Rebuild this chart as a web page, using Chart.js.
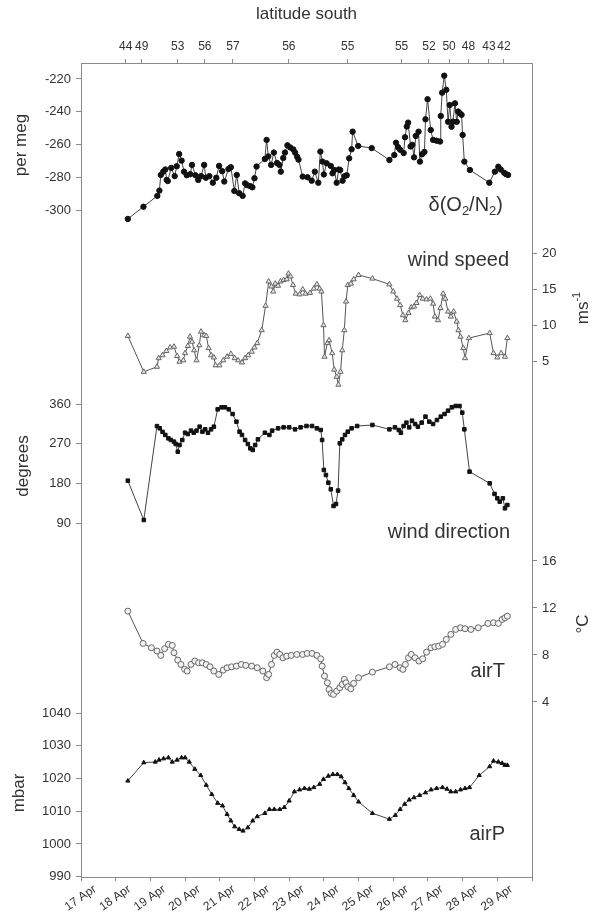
<!DOCTYPE html>
<html><head><meta charset="utf-8">
<script src="https://cdn.jsdelivr.net/npm/chart.js@4.4.1/dist/chart.umd.min.js"></script>
<style>html,body{margin:0;padding:0;background:#fff;}canvas{display:block;}</style>
</head><body>
<canvas id="c" width="593" height="917"></canvas>
<script>
// ---------- DATA ----------
const o2Days = [18.35,18.80,19.20,19.26,19.30,19.37,19.43,19.47,19.50,19.60,19.70,19.76,19.83,19.90,19.97,20.05,20.15,20.20,20.30,20.38,20.46,20.55,20.60,20.70,20.80,20.90,20.98,21.07,21.13,21.25,21.32,21.42,21.49,21.56,21.66,21.73,21.79,21.87,21.94,22.00,22.06,22.30,22.35,22.40,22.48,22.56,22.65,22.72,22.76,22.83,22.88,22.95,23.03,23.12,23.17,23.23,23.27,23.39,23.53,23.65,23.74,23.84,23.90,23.96,24.00,24.08,24.20,24.25,24.30,24.37,24.43,24.47,24.54,24.60,24.66,24.73,24.80,24.83,24.99,25.38,25.89,26.03,26.08,26.14,26.20,26.30,26.34,26.39,26.43,26.50,26.55,26.60,26.65,26.73,26.77,26.83,26.90,26.93,26.99,27.08,27.15,27.25,27.35,27.37,27.41,27.47,27.53,27.58,27.63,27.68,27.72,27.78,27.83,27.87,27.92,27.97,28.00,28.05,28.21,28.77,28.93,29.03,29.10,29.20,29.25,29.31];
const o2Values = [-305,-297.6,-291,-287.8,-278.3,-276.3,-275,-281.3,-282,-274,-279,-273,-265.6,-269.6,-276.3,-278.5,-277.8,-272.2,-278.5,-281.3,-279,-272.2,-280,-279,-283,-280,-272.8,-276,-282.3,-274.7,-273.6,-288,-278.3,-289.4,-291,-283.4,-284.5,-285,-285.8,-280.3,-273.2,-268.6,-257,-267,-272.2,-264.7,-271,-272.2,-276.3,-268,-264.7,-260.3,-261.6,-262.8,-264.7,-267.2,-269,-279.3,-279.7,-281.8,-276.3,-283,-264.1,-270.2,-278,-271.2,-272.8,-277.3,-275.3,-283,-275,-275.3,-281.8,-279,-278.5,-268.2,-262.7,-252,-260.7,-262,-269.2,-266.2,-258.7,-261.4,-263,-265,-255.4,-248.9,-246.5,-261,-260,-267.6,-254.6,-252,-270.2,-265.7,-264.3,-244.5,-232.3,-251,-257,-257.5,-258,-242.5,-228.3,-218,-226.6,-246,-235.8,-249,-246,-234.8,-246,-239.8,-240.8,-241.8,-254,-270.2,-275.3,-283,-276.3,-273.3,-275,-277,-277.8,-278.3];

const windDays = [18.35,18.81,19.19,19.24,19.35,19.46,19.57,19.68,19.77,19.84,19.95,20.00,20.08,20.14,20.20,20.26,20.33,20.41,20.46,20.55,20.61,20.68,20.75,20.83,20.88,20.99,21.10,21.21,21.32,21.43,21.53,21.64,21.73,21.82,21.92,22.00,22.08,22.21,22.32,22.41,22.49,22.54,22.60,22.68,22.75,22.84,22.93,22.98,23.04,23.11,23.19,23.30,23.39,23.47,23.60,23.71,23.80,23.88,23.93,23.99,24.02,24.10,24.15,24.24,24.30,24.37,24.42,24.48,24.53,24.59,24.64,24.69,24.78,24.86,25.00,25.40,25.89,26.00,26.11,26.20,26.28,26.35,26.44,26.52,26.60,26.67,26.76,26.85,26.96,27.07,27.15,27.20,27.29,27.36,27.44,27.50,27.58,27.66,27.74,27.83,27.88,27.94,28.02,28.07,28.18,28.78,28.89,29.00,29.11,29.22,29.29];
const windSpeed = [8.5,3.5,4.2,5.4,5.8,6.4,6.9,7.0,5.7,4.9,5.1,6.1,7.1,8.4,7.7,6.5,5.1,7.2,9.1,8.6,8.5,6.8,5.8,5.5,4.4,4.4,5.1,5.6,6.0,5.4,5.1,4.8,5.4,5.8,6.3,6.9,7.5,9.3,12.7,16.1,15.4,14.7,15.8,15.5,16.1,16.3,16.4,17.2,16.8,15.6,14.4,14.3,15.0,14.4,14.5,15.1,15.7,15.1,14.7,10.0,5.6,7.5,7.9,6.1,3.8,2.8,1.7,3.5,6.5,9.3,13.3,15.6,15.8,16.4,17.0,16.5,15.7,14.7,13.7,12.8,11.4,10.7,11.7,12.5,12.6,13.1,14.2,13.7,13.6,13.7,13.0,11.2,10.7,12.4,14.4,13.7,11.9,11.2,11.9,10.5,9.3,8.4,6.8,5.4,8.2,8.9,6.1,5.5,6.1,5.6,8.2];

const dirDays = [18.35,18.81,19.19,19.27,19.35,19.43,19.52,19.59,19.68,19.73,19.79,19.84,19.92,20.00,20.08,20.17,20.25,20.33,20.42,20.50,20.58,20.66,20.75,20.83,20.94,21.05,21.15,21.26,21.37,21.48,21.57,21.64,21.73,21.81,21.88,21.95,22.02,22.10,22.30,22.43,22.51,22.68,22.84,23.00,23.17,23.33,23.50,23.66,23.80,23.91,23.95,24.00,24.06,24.13,24.20,24.28,24.35,24.41,24.46,24.53,24.61,24.69,24.80,24.96,25.40,25.89,26.05,26.16,26.22,26.30,26.38,26.46,26.54,26.63,26.71,26.82,26.93,27.04,27.15,27.26,27.37,27.48,27.58,27.69,27.80,27.91,27.99,28.05,28.20,28.78,28.92,29.00,29.07,29.16,29.22,29.29];
const windDir = [186.5,97.5,310,305,297,290,282.3,278.6,274.8,269.5,252,267.2,278.6,295,292,299.7,295,299.7,308.7,297.4,302.7,295,302.7,308.7,348,352.5,352.5,348,337.4,320,297.4,290,278.6,269.5,259.7,256,267.2,280,295,290,299.7,305,307.2,307.2,302.7,307.2,310.2,310.2,305,301.2,278.6,210.7,199.4,182,167,129.2,133.7,164,271,280,290,297.4,305,310.2,312.5,302.7,307.2,301.2,295,310.2,317.8,307.2,322.3,314.8,308.7,317.8,331.4,320,314.8,323.8,331.4,337.4,344.9,352.5,355.5,355.5,340.4,302.7,206.9,180.5,156.4,146.6,139,146.6,124,131.5];

const tempDays = [18.35,18.79,19.03,19.19,19.30,19.41,19.52,19.63,19.68,19.79,19.88,19.99,20.06,20.17,20.28,20.39,20.50,20.61,20.72,20.83,20.97,21.10,21.21,21.34,21.48,21.62,21.75,21.92,22.08,22.24,22.35,22.41,22.49,22.57,22.65,22.73,22.82,22.93,23.06,23.22,23.39,23.52,23.66,23.80,23.91,23.95,24.02,24.10,24.15,24.21,24.28,24.37,24.46,24.53,24.59,24.64,24.69,24.78,24.86,25.00,25.40,25.89,26.05,26.20,26.28,26.35,26.44,26.52,26.63,26.74,26.85,26.96,27.09,27.20,27.31,27.42,27.53,27.66,27.80,27.94,28.07,28.24,28.45,28.73,28.89,29.03,29.14,29.22,29.29];
const airTemp = [11.73,8.98,8.61,8.33,7.96,8.53,8.9,8.81,8.19,7.56,7.19,6.77,6.63,7.19,7.48,7.33,7.33,7.19,6.99,6.63,6.34,6.71,6.91,6.99,7.05,7.19,7.11,7.05,6.91,6.63,6.06,6.34,7.19,7.96,8.24,8.04,7.76,7.9,7.96,8.04,8.04,8.13,8.13,7.96,7.67,7.05,6.2,5.63,5.06,4.72,4.64,4.92,5.21,5.49,5.92,5.63,5.29,5.12,5.58,6.06,6.54,6.99,7.19,6.91,6.77,7.19,7.76,8.04,7.76,7.48,7.67,8.24,8.61,8.7,8.75,8.9,9.32,9.75,10.17,10.31,10.23,10.17,10.31,10.68,10.74,10.68,11.02,11.16,11.3];

const presDays = [18.35,18.81,19.14,19.25,19.38,19.52,19.63,19.77,19.90,20.00,20.12,20.28,20.45,20.61,20.77,20.94,21.08,21.21,21.32,21.43,21.56,21.67,21.81,21.95,22.08,22.30,22.43,22.57,22.73,22.86,23.00,23.15,23.30,23.44,23.58,23.71,23.88,23.99,24.13,24.26,24.39,24.50,24.61,24.72,24.86,25.00,25.40,25.89,26.06,26.20,26.33,26.46,26.60,26.76,26.93,27.09,27.25,27.42,27.55,27.66,27.80,27.94,28.07,28.20,28.48,28.78,28.89,29.03,29.14,29.22,29.29];
const airPres = [1019.3,1024.9,1025.1,1025.7,1026.1,1026.4,1025.1,1025.7,1026.4,1026.4,1025.1,1022.9,1021.0,1018.0,1015.2,1012.5,1011.7,1009.1,1007.1,1005.3,1004.5,1004.0,1005.0,1007.1,1008.4,1009.4,1010.6,1010.6,1010.6,1011.2,1013.2,1016.0,1016.6,1017.0,1016.8,1017.3,1018.3,1019.8,1020.8,1021.3,1021.3,1020.6,1018.8,1017.0,1014.9,1012.9,1009.4,1007.6,1008.8,1010.6,1012.2,1013.5,1014.2,1014.9,1015.7,1016.6,1017.0,1017.3,1016.8,1016.0,1016.0,1016.6,1017.0,1017.3,1021.0,1023.7,1025.4,1025.1,1024.7,1024.1,1024.1];

const dateTicks = [17,18,19,20,21,22,23,24,25,26,27,28,29,30];
const dateLabels = ['17 Apr','18 Apr','19 Apr','20 Apr','21 Apr','22 Apr','23 Apr','24 Apr','25 Apr','26 Apr','27 Apr','28 Apr','29 Apr',''];
const latTickDays = [18.29,18.75,19.79,20.57,21.38,22.99,24.69,26.24,27.03,27.61,28.17,28.76,29.19];
const latLabels = ['44','49','53','56','57','56','55','55','52','50','48','43','42'];
const o2Ticks = [-300,-280,-260,-240,-220];
const speedTicks = [5,10,15,20];
const dirTicks = [90,180,270,360];
const tempTicks = [4,8,12,16];
const presTicks = [990,1000,1010,1020,1030,1040];

// ---------- CHART ----------
const FAM = '"Liberation Sans", Arial, Helvetica, sans-serif';
const AXC = '#8a8a8a';
const TXC = '#333';
Chart.defaults.color = TXC;
Chart.defaults.font.family = FAM;

const pts = (xs, ys) => xs.map((x, i) => ({x, y: ys[i]}));
const setTicks = vals => s => { s.ticks = vals.map(v => ({value: v})); };
const zeroW = s => { s.width = 0; s.paddingLeft = s.paddingRight = s.paddingTop = s.paddingBottom = 0; };
const zeroH = s => { s.height = 0; s.paddingLeft = s.paddingRight = s.paddingTop = s.paddingBottom = 0; };

function yAxis(pos, min, max, vals) {
  return {
    type: 'linear', position: pos, min, max, bounds: 'data',
    afterBuildTicks: setTicks(vals), afterFit: zeroW,
    grid: {drawOnChartArea: false, drawTicks: true, tickLength: 5, color: AXC, lineWidth: 1},
    border: {display: true, color: AXC, width: 1},
    ticks: {autoSkip: false, padding: 5, color: TXC, font: {size: 13, family: FAM}, callback: v => String(v)}
  };
}

// axes take no layout room (chart area set by padding); widen their boxes afterwards so labels are not clipped
const axisBoxPlugin = {
  id: 'axisBox',
  afterLayout(chart) {
    Object.values(chart.scales).forEach(s => {
      const p = s.options.position;
      if (p === 'left') { s.left = 0; s.width = s.right; }
      else if (p === 'right') { s.right = chart.width; s.width = s.right - s.left; }
      else if (p === 'top') { s.top = 0; s.height = s.bottom; }
      else if (p === 'bottom') { s.bottom = chart.height; s.height = s.bottom - s.top; }
    });
  }
};

const textPlugin = {
  id: 'texts',
  afterDraw(chart) {
    const ctx = chart.ctx;
    ctx.save();
    ctx.fillStyle = TXC;
    ctx.textBaseline = 'middle';
    const f = s => s + 'px ' + FAM;
    ctx.font = f(17); ctx.textAlign = 'center';
    ctx.fillText('latitude south', (chart.chartArea.left + chart.chartArea.right) / 2, 14);
    function rich(segs, size, x, y, align, rot) {
      ctx.save();
      ctx.translate(x, y);
      if (rot) ctx.rotate(rot);
      const small = size * 0.65;
      let w = 0;
      segs.forEach(s => { ctx.font = f(s.sub || s.sup ? small : size); w += ctx.measureText(s.t).width; });
      let cx = align === 'right' ? -w : (align === 'center' ? -w / 2 : 0);
      ctx.textAlign = 'left';
      segs.forEach(s => {
        ctx.font = f(s.sub || s.sup ? small : size);
        const dy = s.sub ? size * 0.3 : (s.sup ? -size * 0.35 : 0);
        ctx.fillText(s.t, cx, dy);
        cx += ctx.measureText(s.t).width;
      });
      ctx.restore();
    }
    const R = -Math.PI / 2;
    rich([{t: 'per meg'}], 17, 21, 145, 'center', R);
    rich([{t: 'degrees'}], 17, 23, 466, 'center', R);
    rich([{t: 'mbar'}], 17, 19, 793, 'center', R);
    rich([{t: 'ms'}, {t: '-1', sup: true}], 17, 583, 308, 'center', R);
    rich([{t: '°C'}], 17, 583, 624, 'center', R);
    rich([{t: 'δ(O'}, {t: '2', sub: true}, {t: '/N'}, {t: '2', sub: true}, {t: ')'}], 20, 503, 205, 'right');
    rich([{t: 'wind speed'}], 20, 509, 260, 'right');
    rich([{t: 'wind direction'}], 20, 510, 532, 'right');
    rich([{t: 'airT'}], 20, 505, 671, 'right');
    rich([{t: 'airP'}], 20, 505, 834, 'right');
    ctx.restore();
  }
};

const LINE = '#444';
new Chart(document.getElementById('c'), {
  type: 'line',
  data: {
    datasets: [
      {data: pts(o2Days, o2Values), yAxisID: 'yO2', borderColor: LINE, borderWidth: 1, pointStyle: 'circle', pointRadius: 2.7, pointBackgroundColor: '#111', pointBorderColor: '#111', pointBorderWidth: 1},
      {data: pts(windDays, windSpeed), yAxisID: 'ySpeed', borderColor: '#555', borderWidth: 1, pointStyle: 'triangle', pointRadius: 3, pointBackgroundColor: '#e6e6e6', pointBorderColor: '#666', pointBorderWidth: 1},
      {data: pts(dirDays, windDir), yAxisID: 'yDir', borderColor: LINE, borderWidth: 1, pointStyle: 'rect', pointRadius: 2.5, pointBackgroundColor: '#111', pointBorderColor: '#111', pointBorderWidth: 1},
      {data: pts(tempDays, airTemp), yAxisID: 'yTemp', borderColor: '#555', borderWidth: 1, pointStyle: 'circle', pointRadius: 3, pointBackgroundColor: '#f2f2f2', pointBorderColor: '#666', pointBorderWidth: 1},
      {data: pts(presDays, airPres), yAxisID: 'yPres', borderColor: LINE, borderWidth: 1, pointStyle: 'triangle', pointRadius: 2.4, pointBackgroundColor: '#111', pointBorderColor: '#111', pointBorderWidth: 1}
    ]
  },
  options: {
    responsive: false, animation: false, devicePixelRatio: 1,
    layout: {padding: {left: 81, right: 61, top: 63, bottom: 40}},
    plugins: {legend: {display: false}, tooltip: {enabled: false}},
    elements: {line: {tension: 0, fill: false}},
    scales: {
      x: {
        type: 'linear', position: 'bottom', min: 17, max: 30, bounds: 'data',
        afterBuildTicks: setTicks(dateTicks), afterFit: zeroH,
        grid: {drawOnChartArea: false, drawTicks: true, tickLength: 4, color: AXC},
        border: {display: true, color: AXC, width: 1},
        ticks: {autoSkip: false, minRotation: 35, maxRotation: 35, padding: 1, labelOffset: 14, color: TXC, font: {size: 12, family: FAM}, callback: (v, i) => dateLabels[i]}
      },
      xTop: {
        type: 'linear', position: 'top', min: 17, max: 30, bounds: 'data',
        afterBuildTicks: setTicks(latTickDays), afterFit: zeroH,
        grid: {drawOnChartArea: false, drawTicks: true, tickLength: 4, color: AXC},
        border: {display: true, color: AXC, width: 1},
        ticks: {autoSkip: false, minRotation: 0, maxRotation: 0, padding: 5, color: TXC, font: {size: 12, family: FAM}, callback: (v, i) => latLabels[i]}
      },
      yO2: yAxis('left', -704.7, -210.3, o2Ticks),
      yDir: yAxis('left', -710.5, 1131.8, dirTicks),
      yPres: yAxis('left', 989.9, 1238.9, presTicks),
      ySpeed: yAxis('right', -66.98, 46.58, speedTicks),
      yTemp: yAxis('right', -10.9, 58.38, tempTicks)
    }
  },
  plugins: [axisBoxPlugin, textPlugin]
});
</script>
</body></html>
